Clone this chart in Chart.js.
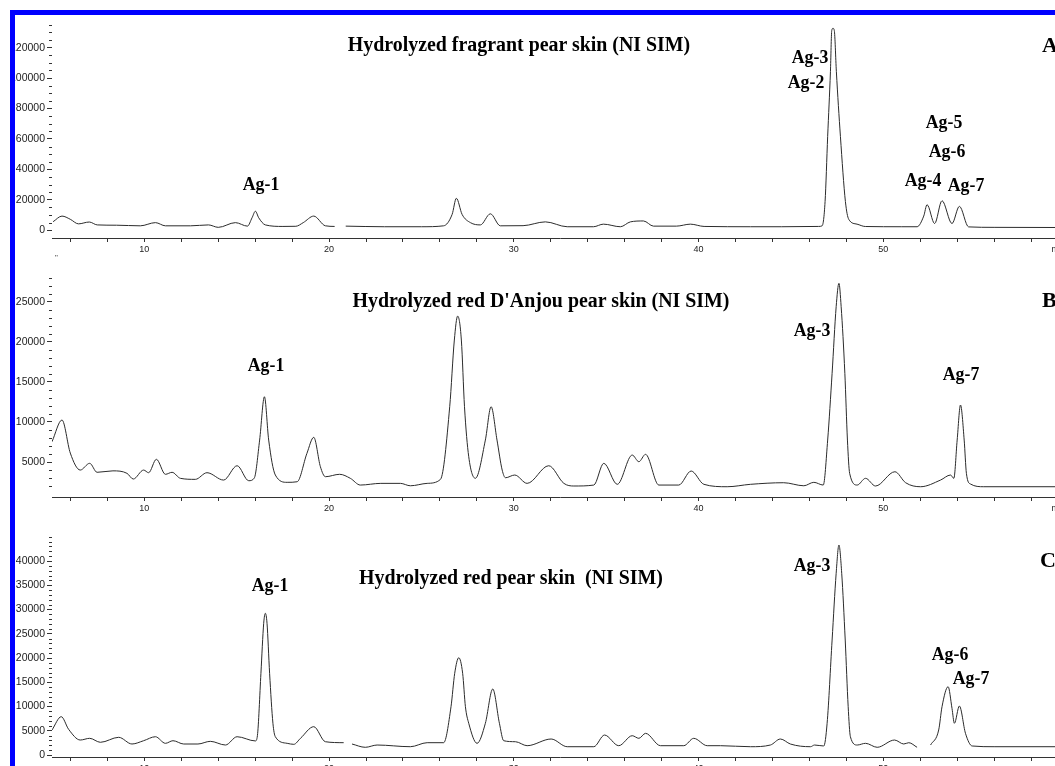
<!DOCTYPE html>
<html><head><meta charset="utf-8">
<script src="https://cdn.jsdelivr.net/npm/chart.js@4.4.1/dist/chart.umd.min.js"></script>
<style>
html,body{margin:0;padding:0;width:1055px;height:766px;overflow:hidden;background:#fff;}
#clip{position:absolute;left:15px;top:15px;width:1100px;height:800px;overflow:hidden;}
canvas{position:absolute;left:-15px;}
#frame{position:absolute;left:10px;top:10px;width:1100px;height:800px;border-left:5px solid #0000ff;border-top:5px solid #0000ff;pointer-events:none;}
.lbl{position:absolute;font-family:"Liberation Serif","Times New Roman",serif;font-weight:bold;color:#000;white-space:pre;line-height:1;transform:translate(-50%,-50%);}
.ttl{font-size:19.9px;}
.ag{font-size:17.8px;}
.pl{font-size:22px;transform:translate(0,-50%);}
.q{position:absolute;font-family:"Liberation Sans",Arial,sans-serif;font-size:8px;color:#333;line-height:1;}
</style></head>
<body>
<div id="clip">
  <canvas id="cA" width="1080" height="250" style="top:0px"></canvas>
  <canvas id="cB" width="1080" height="260" style="top:250px"></canvas>
  <canvas id="cC" width="1080" height="280" style="top:510px"></canvas>
</div>
<div id="frame"></div>

<div class="lbl ttl" style="left:519px;top:45px">Hydrolyzed fragrant pear skin (NI SIM)</div>
<div class="lbl ttl" style="left:541px;top:301px">Hydrolyzed red D'Anjou pear skin (NI SIM)</div>
<div class="lbl ttl" style="left:511px;top:578px">Hydrolyzed red pear skin  (NI SIM)</div>
<div class="lbl pl" style="left:1042px;top:45px">A</div>
<div class="lbl pl" style="left:1042px;top:300px">B</div>
<div class="lbl pl" style="left:1040px;top:560px">C</div>

<div class="lbl ag" style="left:261px;top:185px">Ag-1</div>
<div class="lbl ag" style="left:810px;top:58px">Ag-3</div>
<div class="lbl ag" style="left:806px;top:83px">Ag-2</div>
<div class="lbl ag" style="left:944px;top:123px">Ag-5</div>
<div class="lbl ag" style="left:947px;top:152px">Ag-6</div>
<div class="lbl ag" style="left:923px;top:181px">Ag-4</div>
<div class="lbl ag" style="left:966px;top:186px">Ag-7</div>

<div class="lbl ag" style="left:266px;top:366px">Ag-1</div>
<div class="lbl ag" style="left:812px;top:331px">Ag-3</div>
<div class="lbl ag" style="left:961px;top:375px">Ag-7</div>

<div class="lbl ag" style="left:270px;top:586px">Ag-1</div>
<div class="lbl ag" style="left:812px;top:566px">Ag-3</div>
<div class="lbl ag" style="left:950px;top:655px">Ag-6</div>
<div class="lbl ag" style="left:971px;top:679px">Ag-7</div>
<div class="q" style="left:55px;top:254px">"</div>

<script>
// ---- x axis (retention time, min) ----
const xTickValues = [6,8,10,12,14,16,18,20,22,24,26,28,30,32,34,36,38,40,42,44,46,48,50,52,54,56,58];
const xTickLabels = [10,20,30,40,50];
const xUnitLabel = 'min';
const xUnitPos = 59.5;

// ---- Panel A: Hydrolyzed fragrant pear skin ----
const timesA = [5.06,5.54,5.99,6.43,7.02,7.45,8.5,9.78,10.6,11.14,
  12.5,13.47,14.0,14.93,15.58,15.83,16.01,16.19,16.55,17.5,
  18.2,18.6,19.17,19.8,20.3,20.6,20.9,23.0,25.0,26.2,
  26.66,26.89,27.2,27.65,28.19,28.73,29.27,30.5,31.71,32.89,
  34.31,34.85,35.77,36.31,37.02,37.56,38.8,39.56,40.3,42.81,
  44.5,46.5,46.69,46.85,46.99,47.14,47.21,47.28,47.35,47.46,
  47.68,47.95,48.13,48.58,49.03,51.0,51.83,52.19,52.37,52.78,
  53.18,53.72,54.12,54.62,56.0,59.6];
const valuesA = [5600,9300,7200,4200,5400,3500,3300,2900,5000,2900,
  2900,3500,1900,5000,2700,8200,12500,8200,3500,2500,
  2600,5000,9300,2900,2500,null,2700,2300,2300,2900,
  10400,21000,10400,5000,3500,10800,2900,3000,5500,2300,
  2300,4000,2300,5500,6100,2700,2700,4000,2500,2300,
  2300,2500,2900,18900,61700,104400,131200,132700,131200,104400,
  61700,18900,7200,4000,2450,2300,2300,9300,16800,4400,
  19400,4400,15700,2200,1900,1800];
const yMajorsA = [0,20000,40000,60000,80000,100000,120000];

// ---- Panel B: Hydrolyzed red D'Anjou pear skin ----
const timesB = [5.0,5.54,5.99,6.53,7.04,7.44,8.3,9.06,9.40,9.96,
  10.23,10.65,11.14,11.50,11.95,12.76,13.39,14.29,15.02,15.65,
  15.95,16.24,16.50,16.73,17.09,17.73,18.27,18.8,19.17,19.53,
  19.80,20.57,21.15,21.69,22.8,23.86,24.40,25.31,26.03,26.53,
  26.78,26.96,27.16,27.33,27.56,27.92,28.46,28.77,29.09,29.37,
  29.55,30.05,30.72,31.89,32.71,33.25,34.33,34.87,35.60,36.41,
  36.77,37.13,37.85,38.93,39.60,40.29,41.55,42.81,44.61,45.70,
  46.24,46.75,46.99,47.23,47.45,47.60,47.72,47.92,48.06,48.18,
  48.59,49.04,49.58,50.63,51.21,52.02,53.10,53.64,53.82,54.00,
  54.18,54.38,54.50,54.72,55.44,59.6];
const valuesB = [7530,10240,6120,4000,4840,3720,3900,3590,2880,4000,
  3670,5340,3470,3720,2970,2840,3670,2750,4540,2670,
  3000,7740,13140,7740,3380,2470,2540,6080,8080,4410,
  3170,3470,2970,2130,2340,2340,2040,2340,2840,11900,
  20210,23200,20210,11900,5660,2970,7740,11900,7740,4000,
  3040,3380,2340,4540,2340,2010,2130,4840,2220,5870,
  5040,5960,2130,2130,3880,2220,1920,2220,2420,2040,
  2470,2130,7740,16060,24370,27280,24370,16060,7740,3590,
  2130,2970,2010,3790,2420,1920,2750,3380,2970,7740,
  12110,7740,3590,2260,1920,1920];
const yMajorsB = [5000,10000,15000,20000,25000];

// ---- Panel C: Hydrolyzed red pear skin ----
const timesC = [5.0,5.50,5.90,6.53,7.04,7.62,8.61,9.33,9.96,10.60,
  11.14,11.55,12.13,12.9,13.57,14.39,15.02,16.01,16.12,16.31,
  16.46,16.55,16.64,16.78,16.96,17.09,17.73,18.09,18.45,19.17,
  19.80,20.79,21.0,21.24,21.96,22.60,24.40,25.31,26.20,26.60,
  26.80,27.02,27.23,27.38,27.56,28.01,28.46,28.86,29.22,29.45,
  30.09,30.72,32.02,32.89,34.33,34.91,35.68,36.41,36.77,37.13,
  37.94,39.20,39.74,40.47,41.19,42.81,43.89,44.43,44.97,46.06,
  46.28,46.78,46.96,47.23,47.45,47.60,47.75,47.94,48.10,48.22,
  48.59,49.04,49.67,50.61,51.11,51.38,51.83,52.2,52.56,53.00,
  53.18,53.51,53.72,53.85,54.12,54.45,54.81,56.0,59.6];
const valuesC = [5160,7900,5300,3090,3440,2620,3650,2270,2950,3770,
  2410,2950,2270,2270,2820,2060,3770,2900,4000,16850,
  27160,29220,27160,16850,6540,3770,2410,2200,3440,5840,
  2740,2540,null,2270,1590,2060,1710,2540,2540,9960,
  16850,20060,16850,9960,6540,2410,6540,13610,6540,2950,
  2740,1920,3300,1710,1710,4120,1920,3980,3440,4470,
  1920,1920,3440,1920,1920,1710,2060,3300,2270,1710,
  2060,1860,6540,23710,37470,43300,37470,23710,9960,3770,
  2060,2410,1590,3090,2270,2540,1590,null,2060,5160,
  9960,14080,9630,6540,10100,4470,1860,1710,1710];
const yMajorsC = [0,5000,10000,15000,20000,25000,30000,35000,40000];

[['A',timesA,valuesA],['B',timesB,valuesB],['C',timesC,valuesC]].forEach(([n,t,v])=>{
  if (t.length!==v.length) throw new Error('Length mismatch panel '+n+': '+t.length+' vs '+v.length);
});

const TICK = '#333';
const SANS = '"Liberation Sans", Arial, sans-serif';

const minorTickPlugin = {
  id:'minorTicks',
  afterDraw(chart, args, opts){
    const s = chart.scales.y, ctx = chart.ctx;
    ctx.save();
    ctx.strokeStyle = TICK; ctx.lineWidth = 1;
    ctx.beginPath();
    for (let v = opts.from; v <= opts.to + 1e-6; v += opts.step){
      if (opts.majors.includes(v)) continue;
      const y = Math.round(s.getPixelForValue(v)) + 0.5;
      ctx.moveTo(s.right - 3, y); ctx.lineTo(s.right, y);
    }
    ctx.stroke();
    ctx.restore();
  }
};

function makeChart(id, times, vals, cfg){
  const data = times.map((t,i)=>({x:t, y:vals[i]}));
  return new Chart(document.getElementById(id), {
    type:'line',
    data:{datasets:[{data, borderColor:'#2b2b2b', borderWidth:1, pointRadius:0,
      cubicInterpolationMode:'monotone', spanGaps:false, fill:false}]},
    options:{
      responsive:false, animation:false, devicePixelRatio:1,
      layout:{padding:{top:cfg.padTop, right:12, left:0, bottom:0}},
      plugins:{legend:{display:false}, tooltip:{enabled:false},
        minorTicks:{from:cfg.minorFrom, to:cfg.minorTo, step:cfg.minorStep, majors:cfg.majors}},
      scales:{
        x:{type:'linear', min:5, max:60,
          afterFit:s=>{s.height = cfg.xh;},
          afterBuildTicks:s=>{s.ticks = xTickValues.concat([xUnitPos]).map(v=>({value:v}));},
          grid:{drawOnChartArea:false, drawTicks:true, tickLength:4, tickWidth:1,
            tickColor:c=> (c.tick && c.tick.value===xUnitPos) ? 'rgba(0,0,0,0)' : TICK},
          border:{display:true, color:TICK, width:1},
          ticks:{autoSkip:false, maxRotation:0, padding:2, color:'#222',
            font:{family:SANS, size:9},
            callback:v=> v===xUnitPos ? xUnitLabel : (xTickLabels.includes(v) ? String(v) : '')}},
        y:{type:'linear', min:cfg.yMin, max:cfg.yMax,
          afterFit:s=>{s.width = 52;},
          afterBuildTicks:s=>{s.ticks = cfg.majors.map(v=>({value:v}));},
          grid:{drawOnChartArea:false, drawTicks:true, tickLength:5, tickColor:TICK, tickWidth:1},
          border:{display:false},
          ticks:{autoSkip:false, padding:2, color:'#222', font:{family:SANS, size:10.5},
            callback:v=>String(v)}}
      }
    },
    plugins:[minorTickPlugin]
  });
}

makeChart('cA', timesA, valuesA, {padTop:3, xh:27, yMin:-5100, yMax:136000,
  majors:yMajorsA, minorFrom:0, minorTo:135000, minorStep:5000});
makeChart('cB', timesB, valuesB, {padTop:10, xh:28, yMin:640, yMax:28320,
  majors:yMajorsB, minorFrom:2000, minorTo:28000, minorStep:1000});
makeChart('cC', timesC, valuesC, {padTop:12, xh:48, yMin:-410, yMax:44950,
  majors:yMajorsC, minorFrom:0, minorTo:45000, minorStep:1000});
</script>
</body></html>
